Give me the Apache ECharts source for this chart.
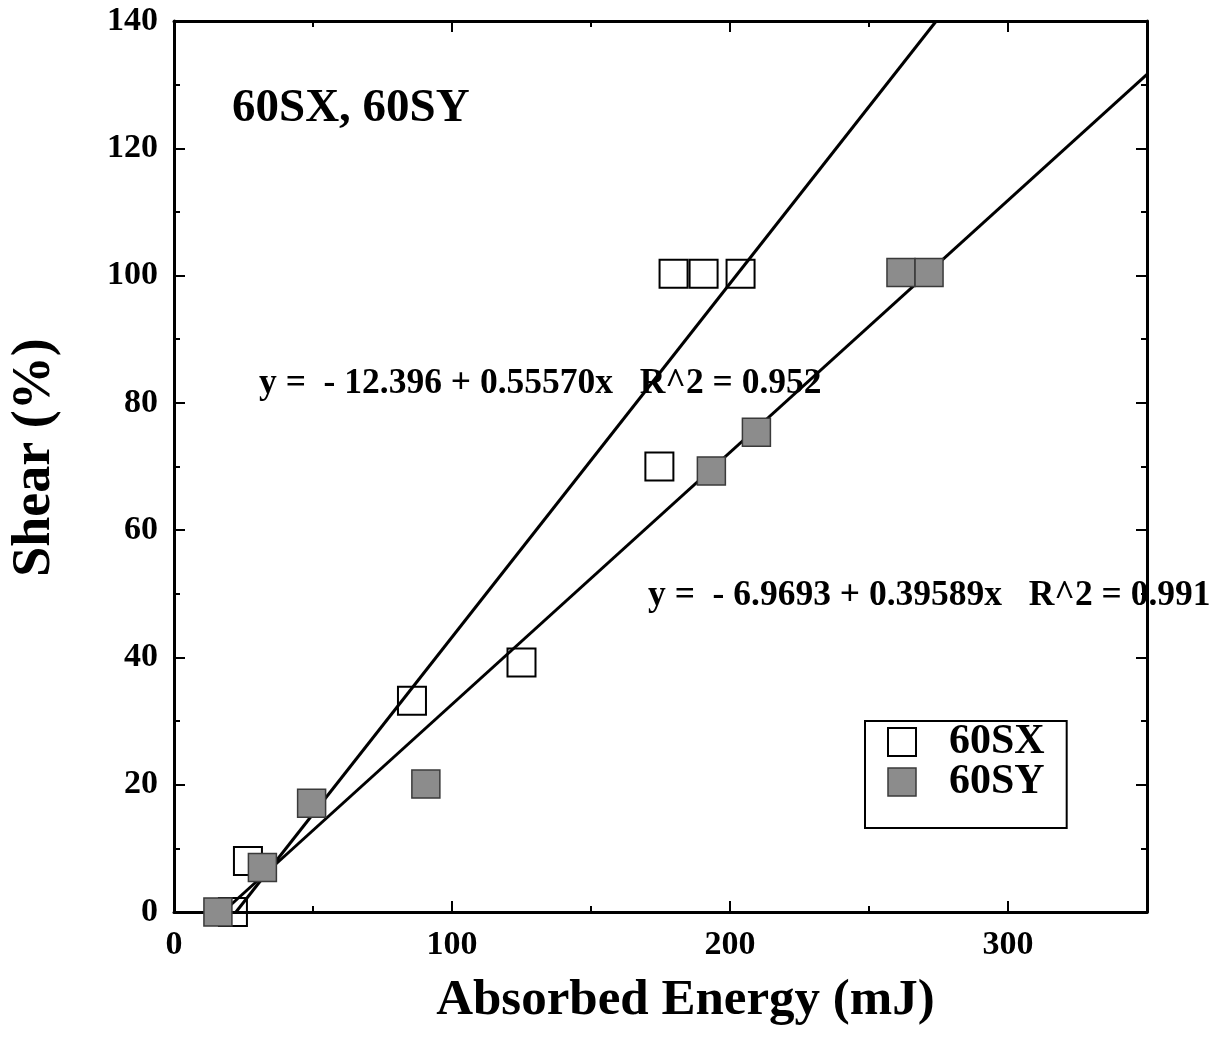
<!DOCTYPE html>
<html>
<head>
<meta charset="utf-8">
<script src="https://cdn.jsdelivr.net/npm/echarts@6/dist/echarts.min.js"></script>
<style>
html, body { margin: 0; padding: 0; background: #fff; }
#chart { width: 1215px; height: 1051px; }
</style>
</head>
<body>
<div id="chart"></div>
<script>
// data
const sxEnergy = [21.2, 26.6, 85.6, 125.0, 174.6, 179.7, 190.5, 203.8];
const sxShear  = [0, 8.0, 33.2, 39.2, 70.0, 100.3, 100.3, 100.3];
const syEnergy = [15.8, 31.8, 49.5, 90.6, 193.3, 209.5, 261.5, 271.6];
const syShear  = [0, 7.0, 17.1, 20.1, 69.3, 75.4, 100.5, 100.5];

// end points of the two fitted lines
const sxFitX = [22.3, 274.2];
const sxFitY = [0, 140];
const syFitX = [17.6, 350];
const syFitY = [0, 131.6];

const seriesNames = ['60SX', '60SY'];
const titleText = '60SX, 60SY';
const sxEquation = 'y =  - 12.396 + 0.55570x   R^2 = 0.952';
const syEquation = 'y =  - 6.9693 + 0.39589x   R^2 = 0.991';
const xName = 'Absorbed Energy (mJ)';
const yName = 'Shear (%)';

const FONT = '"Liberation Serif", "Times New Roman", serif';

function pairs(xs, ys) {
    return xs.map((x, i) => [x, ys[i]]);
}

const chart = echarts.init(document.getElementById('chart'));

const black = '#000';
const baseX = {
    type: 'value', min: 0, max: 350,
    splitLine: { show: false },
    axisLine: { onZero: false, lineStyle: { color: black, width: 3 } }
};
const baseY = {
    type: 'value', min: 0, max: 140, interval: 20,
    splitLine: { show: false },
    axisLine: { onZero: false, lineStyle: { color: black, width: 3 } },
    axisTick: { inside: true, length: 11, lineStyle: { color: black, width: 2 } },
    minorTick: { show: true, splitNumber: 2, length: 6, lineStyle: { color: black, width: 2 } }
};

const option = {
    animation: false,
    backgroundColor: '#fff',
    grid: { left: 174, right: 68, top: 21, bottom: 139 },
    xAxis: [
        Object.assign({}, baseX, {
            position: 'bottom', interval: 100,
            axisTick: { inside: true, length: 11, lineStyle: { color: black, width: 2 } },
            axisLabel: {
                showMaxLabel: false, margin: 16, color: black,
                fontFamily: FONT, fontWeight: 'bold', fontSize: 34
            },
            name: xName, nameLocation: 'middle', nameGap: 63,
            nameTextStyle: {
                fontFamily: FONT, fontWeight: 'bold', fontSize: 51, color: black,
                padding: [0, 0, 0, 50]
            }
        }),
        Object.assign({}, baseX, {
            position: 'top', interval: 100,
            axisTick: { inside: true, length: 11, lineStyle: { color: black, width: 2 } },
            axisLabel: { show: false }
        }),
        Object.assign({}, baseX, {
            position: 'bottom', interval: 50,
            axisLine: { show: false, onZero: false },
            axisTick: { inside: true, length: 6, lineStyle: { color: black, width: 2 } },
            axisLabel: { show: false }
        }),
        Object.assign({}, baseX, {
            position: 'top', interval: 50,
            axisLine: { show: false, onZero: false },
            axisTick: { inside: true, length: 6, lineStyle: { color: black, width: 2 } },
            axisLabel: { show: false }
        })
    ],
    yAxis: [
        Object.assign({}, baseY, {
            position: 'left',
            axisLabel: {
                margin: 16, color: black,
                fontFamily: FONT, fontWeight: 'bold', fontSize: 34
            },
            name: yName, nameLocation: 'middle', nameGap: 112, nameRotate: 90,
            nameTextStyle: {
                fontFamily: FONT, fontWeight: 'bold', fontSize: 54, color: black,
                padding: [0, 0, 0, 18]
            }
        }),
        Object.assign({}, baseY, {
            position: 'right',
            axisLabel: { show: false }
        })
    ],
    legend: {
        data: [
            { name: seriesNames[0], itemStyle: { color: '#fff', borderColor: black, borderWidth: 2 } },
            { name: seriesNames[1], itemStyle: { color: '#8c8c8c', borderColor: '#3a3a3a', borderWidth: 1.5 } }
        ],
        icon: 'rect',
        orient: 'vertical',
        left: 865, top: 721,
        itemWidth: 28, itemHeight: 28, itemGap: -2,
        padding: [0, 22, 25, 22],
        borderColor: black, borderWidth: 2,
        selectedMode: false,
        textStyle: {
            fontFamily: FONT, fontWeight: 'bold', fontSize: 42, color: black,
            padding: [0, 0, 0, 28]
        }
    },
    graphic: [
        {
            type: 'text', z: 100,
            style: { text: titleText, x: 232, y: 109, verticalAlign: 'middle',
                     font: 'bold 47px ' + FONT, fill: black }
        },
        {
            type: 'text', z: 100,
            style: { text: sxEquation, x: 259, y: 384, verticalAlign: 'middle',
                     font: 'bold 35.5px ' + FONT, fill: black }
        },
        {
            type: 'text', z: 100,
            style: { text: syEquation, x: 648, y: 596, verticalAlign: 'middle',
                     font: 'bold 35.5px ' + FONT, fill: black }
        }
    ],
    series: [
        {
            name: 'fitSX', type: 'line', data: pairs(sxFitX, sxFitY),
            showSymbol: false, silent: true, z: 1,
            lineStyle: { color: black, width: 3 }
        },
        {
            name: 'fitSY', type: 'line', data: pairs(syFitX, syFitY),
            showSymbol: false, silent: true, z: 1,
            lineStyle: { color: black, width: 3 }
        },
        {
            name: seriesNames[0], type: 'scatter', data: pairs(sxEnergy, sxShear),
            symbol: 'rect', symbolSize: 28, clip: false, z: 2, silent: true,
            itemStyle: { color: 'rgba(255,255,255,0)', borderColor: black, borderWidth: 2, opacity: 1 }
        },
        {
            name: seriesNames[1], type: 'scatter', data: pairs(syEnergy, syShear),
            symbol: 'rect', symbolSize: 28, clip: false, z: 3, silent: true,
            itemStyle: { color: '#8c8c8c', borderColor: '#3a3a3a', borderWidth: 1.5, opacity: 1 }
        }
    ]
};

chart.setOption(option);
</script>
</body>
</html>
